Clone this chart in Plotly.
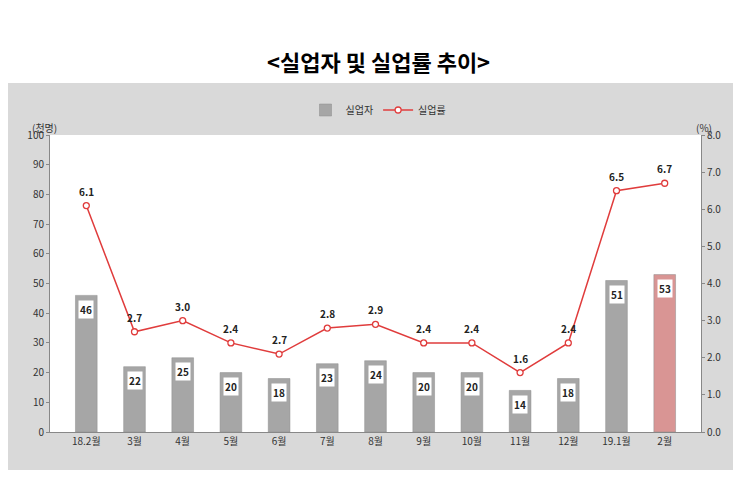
import plotly.graph_objects as go

months = ["18.2월", "3월", "4월", "5월", "6월", "7월", "8월", "9월", "10월", "11월", "12월", "19.1월", "2월"]
unemployed = [46, 22, 25, 20, 18, 23, 24, 20, 20, 14, 18, 51, 53]
rate = [6.1, 2.7, 3.0, 2.4, 2.1, 2.8, 2.9, 2.4, 2.4, 1.6, 2.4, 6.5, 6.7]
rate_labels = ["6.1", "2.7", "3.0", "2.4", "2.7", "2.8", "2.9", "2.4", "2.4", "1.6", "2.4", "6.5", "6.7"]

FONT = "Noto Sans CJK KR"
W, H = 741, 494
bar_colors = ["#a6a6a6"] * (len(months) - 1) + ["#d99594"]

fig = go.Figure()
fig.add_trace(go.Bar(
    x=months, y=unemployed, name="실업자", width=0.45,
    marker=dict(color=bar_colors, line=dict(color="#8c8c8c", width=0.5)),
    yaxis="y",
))
fig.add_trace(go.Scatter(
    x=months, y=rate, name="실업률", mode="lines+markers", yaxis="y2",
    line=dict(color="#e03c3c", width=1.5),
    marker=dict(symbol="circle", size=6, color="white", line=dict(color="#e03c3c", width=1.3)),
))

ann = []
for m, v in zip(months, unemployed):
    ann.append(dict(x=m, y=v - 1.5, xref="x", yref="y", text=f"<b>{v}</b>", showarrow=False,
                    yanchor="top", bgcolor="white", borderpad=1,
                    font=dict(family=FONT, size=10, color="#222")))
for m, v, t in zip(months, rate, rate_labels):
    ann.append(dict(x=m, y=v, xref="x", yref="y2", text=f"<b>{t}</b>", showarrow=False,
                    yanchor="bottom", yshift=5, font=dict(family=FONT, size=10, color="#222")))
ann += [
    dict(x=0.5, y=1 - 35 / H, xref="paper", yref="paper", text="<b>&lt;실업자 및 실업률 추이&gt;</b>",
         showarrow=False, font=dict(family=FONT, size=22, color="black")),
    dict(x=22 / W, y=1 - 110 / H, xref="paper", yref="paper", text="(천명)", showarrow=False,
         font=dict(family=FONT, size=10, color="#333")),
    dict(x=706 / W, y=1 - 110 / H, xref="paper", yref="paper", text="(%)", showarrow=False,
         font=dict(family=FONT, size=10, color="#333")),
]

fig.update_layout(
    width=W, height=H, margin=dict(l=0, r=0, t=0, b=0, autoexpand=False),
    paper_bgcolor="white", plot_bgcolor="white",
    font=dict(family=FONT, size=10, color="#333"),
    shapes=[
        dict(type="rect", xref="paper", yref="paper", x0=0, x1=1,
             y0=1 - 462 / H, y1=1 - 75 / H, fillcolor="#d9d9d9", line=dict(width=0), layer="below"),
        dict(type="rect", xref="x domain", yref="y domain", x0=0, x1=1, y0=0, y1=1,
             fillcolor="white", line=dict(width=0), layer="below"),
    ],
    xaxis=dict(domain=[42 / W, 693 / W], showline=True, linecolor="#888", ticks="", automargin=False),
    yaxis=dict(domain=[1 - 424 / H, 1 - 127 / H], range=[0, 100], dtick=10, showgrid=False, automargin=False,
               showline=True, linecolor="#888", ticks="outside", ticklen=3, tickcolor="#888"),
    yaxis2=dict(overlaying="y", side="right", range=[0, 8], dtick=1, tickformat=".1f", showgrid=False,
                automargin=False, showline=True, linecolor="#888", ticks="outside", ticklen=3, tickcolor="#888"),
    legend=dict(orientation="h", x=0.5, xanchor="center", y=1 - 102 / H, yanchor="middle",
                bgcolor="rgba(0,0,0,0)", font=dict(size=10)),
    annotations=ann,
)

fig.write_html("out.html")
